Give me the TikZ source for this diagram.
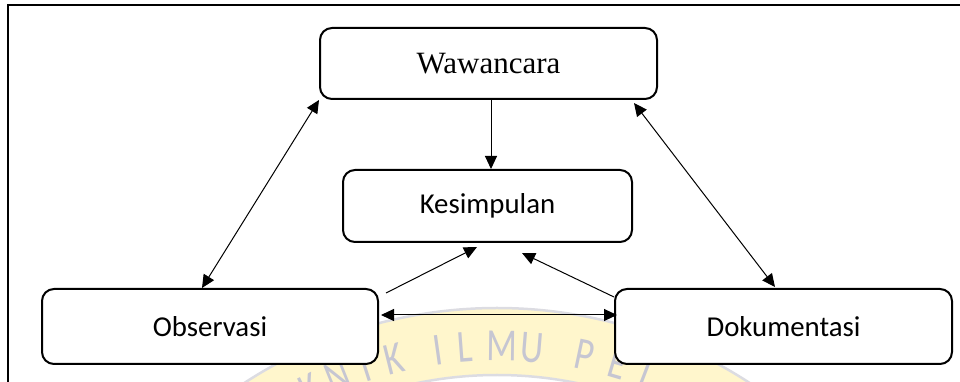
\documentclass[tikz,border=0pt]{standalone}
\usepackage{fontspec}
\setmainfont{Liberation Serif}
\newfontfamily\calibri{Carlito}
\usetikzlibrary{arrows.meta,calc}

\definecolor{sealyellow}{RGB}{255,246,204}
\definecolor{sealgrey}{RGB}{198,198,210}
\definecolor{sealrim}{RGB}{220,220,226}

\begin{document}
\begin{tikzpicture}[x=1pt,y=1pt,
  box/.style={draw, line width=2pt, rounded corners=12pt, fill=white,
    inner sep=0pt, font=\calibri\fontsize{28.8}{34}\selectfont},
  link/.style={line width=1pt, -{Triangle[length=13pt,width=12pt]}},
  both/.style={line width=1pt,
    {Triangle[length=13pt,width=12pt]}-{Triangle[length=13pt,width=12pt]}},
  sealletter/.style={text=sealgrey, inner sep=0pt,
    font=\calibri\fontsize{46}{46}\selectfont},
]
\clip (0,0) rectangle (960,382);

% faint seal in the background
\coordinate (seal) at (497,-389);
\fill[sealyellow, even odd rule] (seal) circle (463) (seal) circle (396);
\draw[sealrim, line width=2.5pt] (seal) circle (463) (seal) circle (396);
\foreach \ch/\ang in {K/-26,N/-22,I/-18,K/-14,
                      I/-8,L/-4.3,M/0.7,U/4.7,
                      P/11.9,E/16.5,L/21}
  \node[sealletter, rotate=-\ang, xscale=0.78] at ([shift={(90-\ang:425)}]seal) {\ch};

% frame
\draw[line width=2pt] (8,-5) -- (8,376.5) -- (965,376.5);

% boxes
\node[box, minimum width=337, minimum height=71,
      font=\fontsize{31}{36}\selectfont] (waw) at (488.5,318.5) {Wawancara};
\node[box, minimum width=289, minimum height=72] (kes) at (487.5,176) {Kesimpulan};
\node[box, minimum width=336, minimum height=75] (obs) at (210,55.5) {Observasi};
\node[box, minimum width=337, minimum height=75] (dok) at (783.5,55.5) {Dokumentasi};

% connectors
\draw[link] ([xshift=2.5]waw.south) -- ([xshift=2.5]waw.south |- kes.north);
\draw[both] (waw.south west) -- ([xshift=-8]obs.north);
\draw[both] ([xshift=-24,yshift=-3]waw.south east) -- ([xshift=-8.5,yshift=1]dok.north);
\coordinate (obsout) at ([xshift=7,yshift=-5]obs.north east);
\coordinate (kesinl) at ([xshift=-10.5,yshift=-4]kes.south);
\draw[link] (obsout) -- (kesinl);
\coordinate (kesinr) at ([xshift=34.5,yshift=-10]kes.south);
\draw[link] ([yshift=-9]dok.north west) -- (kesinr);
\draw[both] ([xshift=2,yshift=11.5]obs.east) -- ([xshift=3,yshift=11.5]dok.west);
\end{tikzpicture}
\end{document}
